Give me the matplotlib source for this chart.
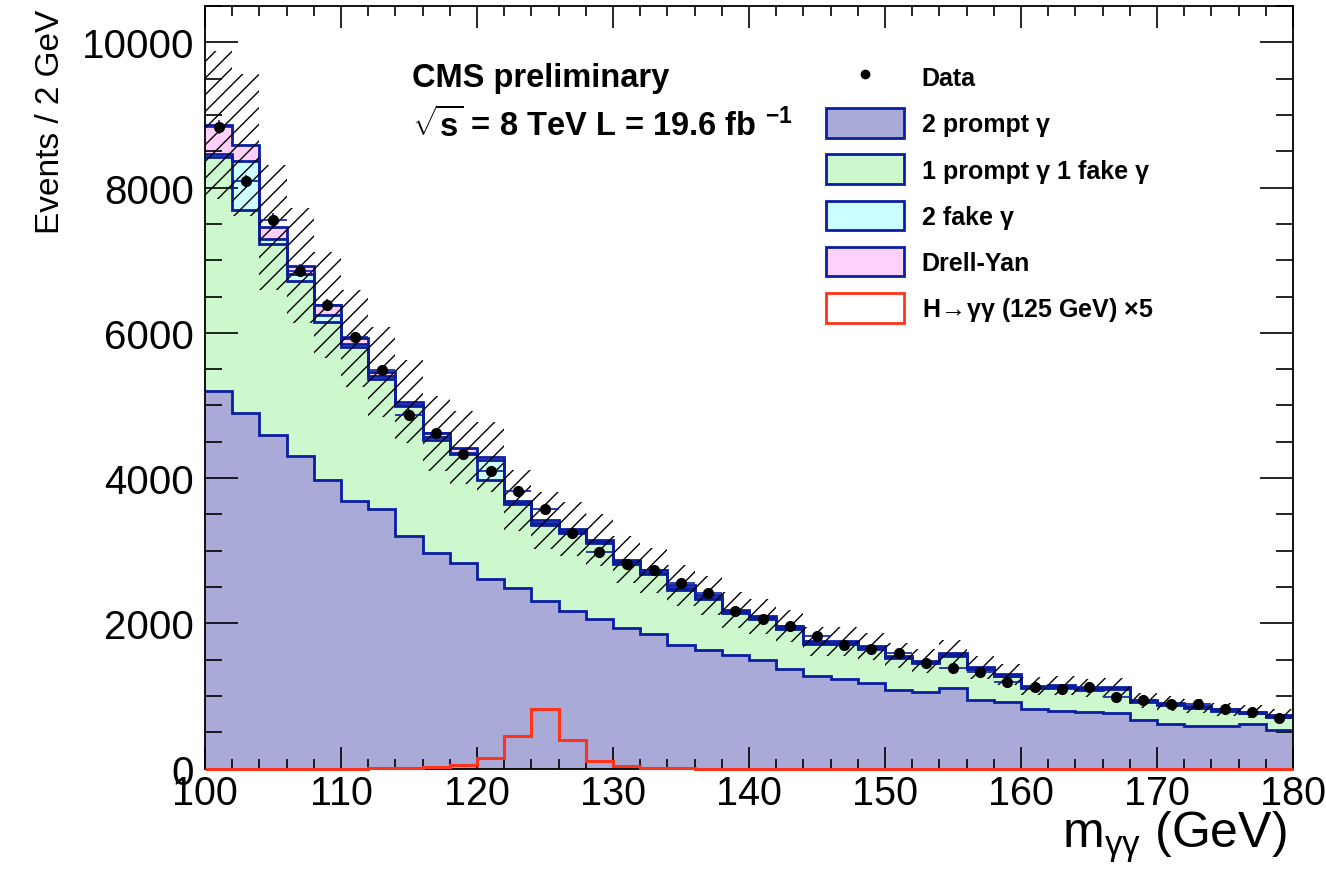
import numpy as np
import matplotlib
matplotlib.use("Agg")
import matplotlib.pyplot as plt
from matplotlib import font_manager as fm
from matplotlib.ticker import MultipleLocator
from matplotlib.patches import Patch
from matplotlib.lines import Line2D

# ---------------- data ----------------
bin_lo, bin_hi, bin_w = 100, 180, 2

prompt2 = [5200, 4900, 4600, 4310, 3970, 3680, 3570, 3200, 2965, 2830,
           2615, 2480, 2305, 2170, 2065, 1940, 1850, 1695, 1630, 1570,
           1492, 1365, 1273, 1228, 1172, 1089, 1048, 1113, 951, 914,
           823, 795, 786, 768, 670, 610, 590, 590, 610, 533]

prompt1fake1 = [3226, 2785, 2626, 2410, 2176, 2122, 1794, 1790, 1554, 1500,
                1360, 1165, 1048, 1080, 1043, 878, 825, 768, 705, 577,
                563, 561, 447, 492, 478, 436, 402, 442, 414, 356,
                287, 325, 294, 327, 245, 268, 248, 202, 152, 179]

fake2 = [40, 680, 70, 90, 100, 50, 40, 15, 40, 20,
         275, 15, 30, 15, 15, 20, 20, 25, 20, 15,
         15, 15, 12, 14, 12, 12, 12, 13, 12, 10,
         10, 10, 10, 11, 10, 9, 9, 9, 8, 8]

drellyan = [391, 217, 160, 117, 139, 73, 53, 46, 56, 68,
            40, 26, 37, 31, 26, 37, 33, 37, 33, 26,
            26, 26, 20, 22, 20, 19, 18, 20, 18, 16,
            16, 16, 16, 18, 15, 14, 13, 13, 13, 13]

bkg_unc = [1020, 980, 860, 790, 730, 670, 620, 570, 520, 500,
           480, 420, 390, 375, 355, 325, 310, 285, 270, 250,
           238, 222, 200, 200, 190, 176, 168, 180, 158, 147,
           129, 130, 125, 127, 107, 102, 97, 92, 89, 83]

data = [8835, 8085, 7557, 6858, 6385, 5939, 5488, 4875, 4625, 4325,
        4091, 3824, 3581, 3250, 2988, 2813, 2740, 2549, 2418, 2174,
        2055, 1958, 1824, 1705, 1651, 1590, 1458, 1384, 1328, 1196,
        1120, 1095, 1127, 986, 947, 883, 894, 814, 775, 692]

higgs_x5 = [0, 0, 0, 0, 0, 0, 2, 5, 20, 45,
            150, 445, 815, 400, 110, 30, 8, 3, 0, 0,
            0, 0, 0, 0, 0, 0, 0, 0, 0, 0,
            0, 0, 0, 0, 0, 0, 0, 0, 0, 0]

x_ticks = [100, 110, 120, 130, 140, 150, 160, 170, 180]
y_ticks = [0, 2000, 4000, 6000, 8000, 10000]

labels = ["Data", "2 prompt \u03b3", "1 prompt \u03b3 1 fake \u03b3",
          "2 fake \u03b3", "Drell-Yan",
          "H$\\!\\rightarrow\\!$\u03b3\u03b3 (125 GeV) \u00d75"]

# ---------------- style ----------------
plt.rcParams['font.family'] = ['Liberation Sans', 'DejaVu Sans']
plt.rcParams['mathtext.fontset'] = 'custom'
plt.rcParams['mathtext.rm'] = 'Liberation Sans'
plt.rcParams['mathtext.bf'] = 'Liberation Sans:bold'
plt.rcParams['mathtext.it'] = 'Liberation Sans:italic'
plt.rcParams['hatch.linewidth'] = 1.0
plt.rcParams['hatch.color'] = 'black'

font_names = {f.name for f in fm.fontManager.ttflist}
if 'Liberation Sans Narrow' in font_names:
    ylab_family, ylab_size = ['Liberation Sans Narrow', 'Liberation Sans'], 26.5
else:
    ylab_family, ylab_size = ['Liberation Sans', 'DejaVu Sans'], 24

c_prompt2 = '#aaaad8'
c_p1f1 = '#cdf8cd'
c_fake2 = '#ccffff'
c_dy = '#ffd0fa'
c_line = '#0a1ea0'
c_red = '#ff3319'

edges = np.arange(bin_lo, bin_hi + bin_w, bin_w)
centers = 0.5 * (edges[:-1] + edges[1:])

p2 = np.array(prompt2, float)
c1 = p2 + np.array(prompt1fake1, float)
c2 = c1 + np.array(fake2, float)
c3 = c2 + np.array(drellyan, float)
unc = np.array(bkg_unc, float)
d = np.array(data, float)

W, H = 1326, 879
fig = plt.figure(figsize=(W / 100, H / 100), dpi=100)
ax = fig.add_axes([205 / W, 1 - 769.6 / H, 1088 / W, 762.6 / H])

# stacked fills
layers = [(c3, c2, c_dy), (c2, c1, c_fake2), (c1, p2, c_p1f1), (p2, 0, c_prompt2)]
for top, base, col in layers:
    ax.stairs(top, edges, baseline=base, fill=True, color=col, lw=0, zorder=1)
# outlines
for top in (c3, c2, c1, p2):
    ax.stairs(top, edges, baseline=None, color=c_line, lw=2.0, zorder=2)

# uncertainty band
ax.stairs(c3 + unc, edges, baseline=c3 - unc, fill=True, facecolor='none',
          edgecolor='black', hatch='//', lw=0, zorder=3)

# signal (drawn over the bottom frame like the reference)
ax.stairs(np.array(higgs_x5, float), edges, baseline=None, color=c_red, lw=2.2,
          zorder=25, clip_on=False)

# data
ax.errorbar(centers, d, xerr=bin_w / 2, yerr=np.sqrt(d), fmt='o', color='black',
            ms=7, ecolor=c_line, elinewidth=1.2, capsize=0, zorder=10)

ax.set_xlim(bin_lo, bin_hi)
ax.set_ylim(0, 10500)
ax.set_xticks(x_ticks)
ax.set_yticks(y_ticks)
ax.xaxis.set_minor_locator(MultipleLocator(2))
ax.yaxis.set_minor_locator(MultipleLocator(500))
ax.tick_params(which='both', direction='in', top=True, right=True, width=1.2, colors='black')
ax.tick_params(axis='x', which='major', length=16, labelsize=28.5, pad=4)
ax.tick_params(axis='x', which='minor', length=7.5)
ax.tick_params(axis='y', which='major', length=24, labelsize=29, pad=8)
ax.tick_params(axis='y', which='minor', length=12.5)
for s in ax.spines.values():
    s.set_linewidth(1.3)
    s.set_zorder(20)

# axis titles
fig.text(59 / W, 1 - 10 / H, 'Events / 2 GeV', rotation=90, rotation_mode='anchor',
         ha='right', va='baseline', fontsize=ylab_size, family=ylab_family)
fig.text(1287 / W, 1 - 848 / H, 'm$_{\\mathrm{\u03b3\u03b3}}$ (GeV)', ha='right',
         va='baseline', fontsize=36)

# header texts
fig.text(412 / W, 1 - 87 / H, 'CMS preliminary', ha='left', va='baseline',
         fontsize=23.5, fontweight='bold')
fig.text(412 / W, 1 - 137 / H, r'$\sqrt{\mathbf{s}}$ = 8 TeV L = 19.6 fb $^{\mathbf{-1}}$',
         ha='left', va='baseline', fontsize=23.5, fontweight='bold')

# legend
handles = [
    Line2D([], [], marker='o', color='black', ls='none', ms=6),
    Patch(facecolor=c_prompt2, edgecolor=c_line, lw=2),
    Patch(facecolor=c_p1f1, edgecolor=c_line, lw=2),
    Patch(facecolor=c_fake2, edgecolor=c_line, lw=2),
    Patch(facecolor=c_dy, edgecolor=c_line, lw=2),
    Patch(facecolor='white', edgecolor=c_red, lw=2),
]
leg = ax.legend(handles, labels, loc='upper left',
                bbox_to_anchor=((826 - 205) / 1088, (769.6 - 63) / 762.6),
                borderaxespad=0, borderpad=0, frameon=False,
                prop={'size': 18, 'weight': 'bold'},
                handlelength=3.12, handleheight=1.45, labelspacing=0.66,
                handletextpad=0.7)
leg.set_zorder(30)

fig.savefig('out.png', dpi=100)
